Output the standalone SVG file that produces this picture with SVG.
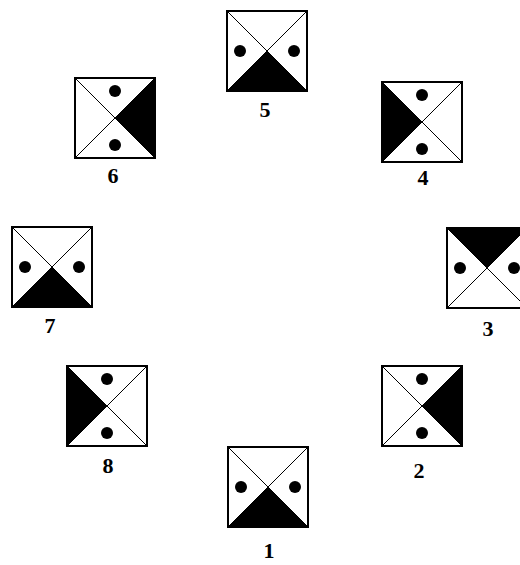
<svg xmlns="http://www.w3.org/2000/svg" xmlns:xlink="http://www.w3.org/1999/xlink" width="520" height="565" viewBox="0 0 520 565">
<style>
.frame{fill:#fff;stroke:#000;stroke-width:2}
.diag{stroke:#000;stroke-width:1}
.tri{fill:#000}
.dot{fill:#000}
.lbl{font-family:"Liberation Serif","Times New Roman",serif;font-weight:bold;font-size:22px;fill:#000;text-anchor:middle}
</style>
<defs>
<g id="tile">
<rect class="frame" x="-40" y="-40" width="80" height="80"/>
<polygon class="tri" points="-40,40 40,40 0,0"/>
<line class="diag" x1="-40" y1="-40" x2="40" y2="40"/>
<line class="diag" x1="40" y1="-40" x2="-40" y2="40"/>
<circle class="dot" cx="-27" cy="0" r="6"/>
<circle class="dot" cx="27" cy="0" r="6"/>
</g>
</defs>
<rect width="520" height="565" fill="#fff"/>
<g id="connectors"/>
<g id="node5"><use xlink:href="#tile" href="#tile" transform="translate(267,51)"/><text class="lbl" x="265" y="117">5</text></g>
<g id="node6"><use xlink:href="#tile" href="#tile" transform="translate(115,118) rotate(-90)"/><text class="lbl" x="113" y="183">6</text></g>
<g id="node4"><use xlink:href="#tile" href="#tile" transform="translate(422,122) rotate(90)"/><text class="lbl" x="423" y="185">4</text></g>
<g id="node7"><use xlink:href="#tile" href="#tile" transform="translate(52,267)"/><text class="lbl" x="50" y="333">7</text></g>
<g id="node3"><use xlink:href="#tile" href="#tile" transform="translate(487,268) rotate(180)"/><text class="lbl" x="488" y="336">3</text></g>
<g id="node8"><use xlink:href="#tile" href="#tile" transform="translate(107,406) rotate(90)"/><text class="lbl" x="108" y="473">8</text></g>
<g id="node2"><use xlink:href="#tile" href="#tile" transform="translate(422,406) rotate(-90)"/><text class="lbl" x="419" y="478">2</text></g>
<g id="node1"><use xlink:href="#tile" href="#tile" transform="translate(268,487)"/><text class="lbl" x="269" y="558">1</text></g>
</svg>
